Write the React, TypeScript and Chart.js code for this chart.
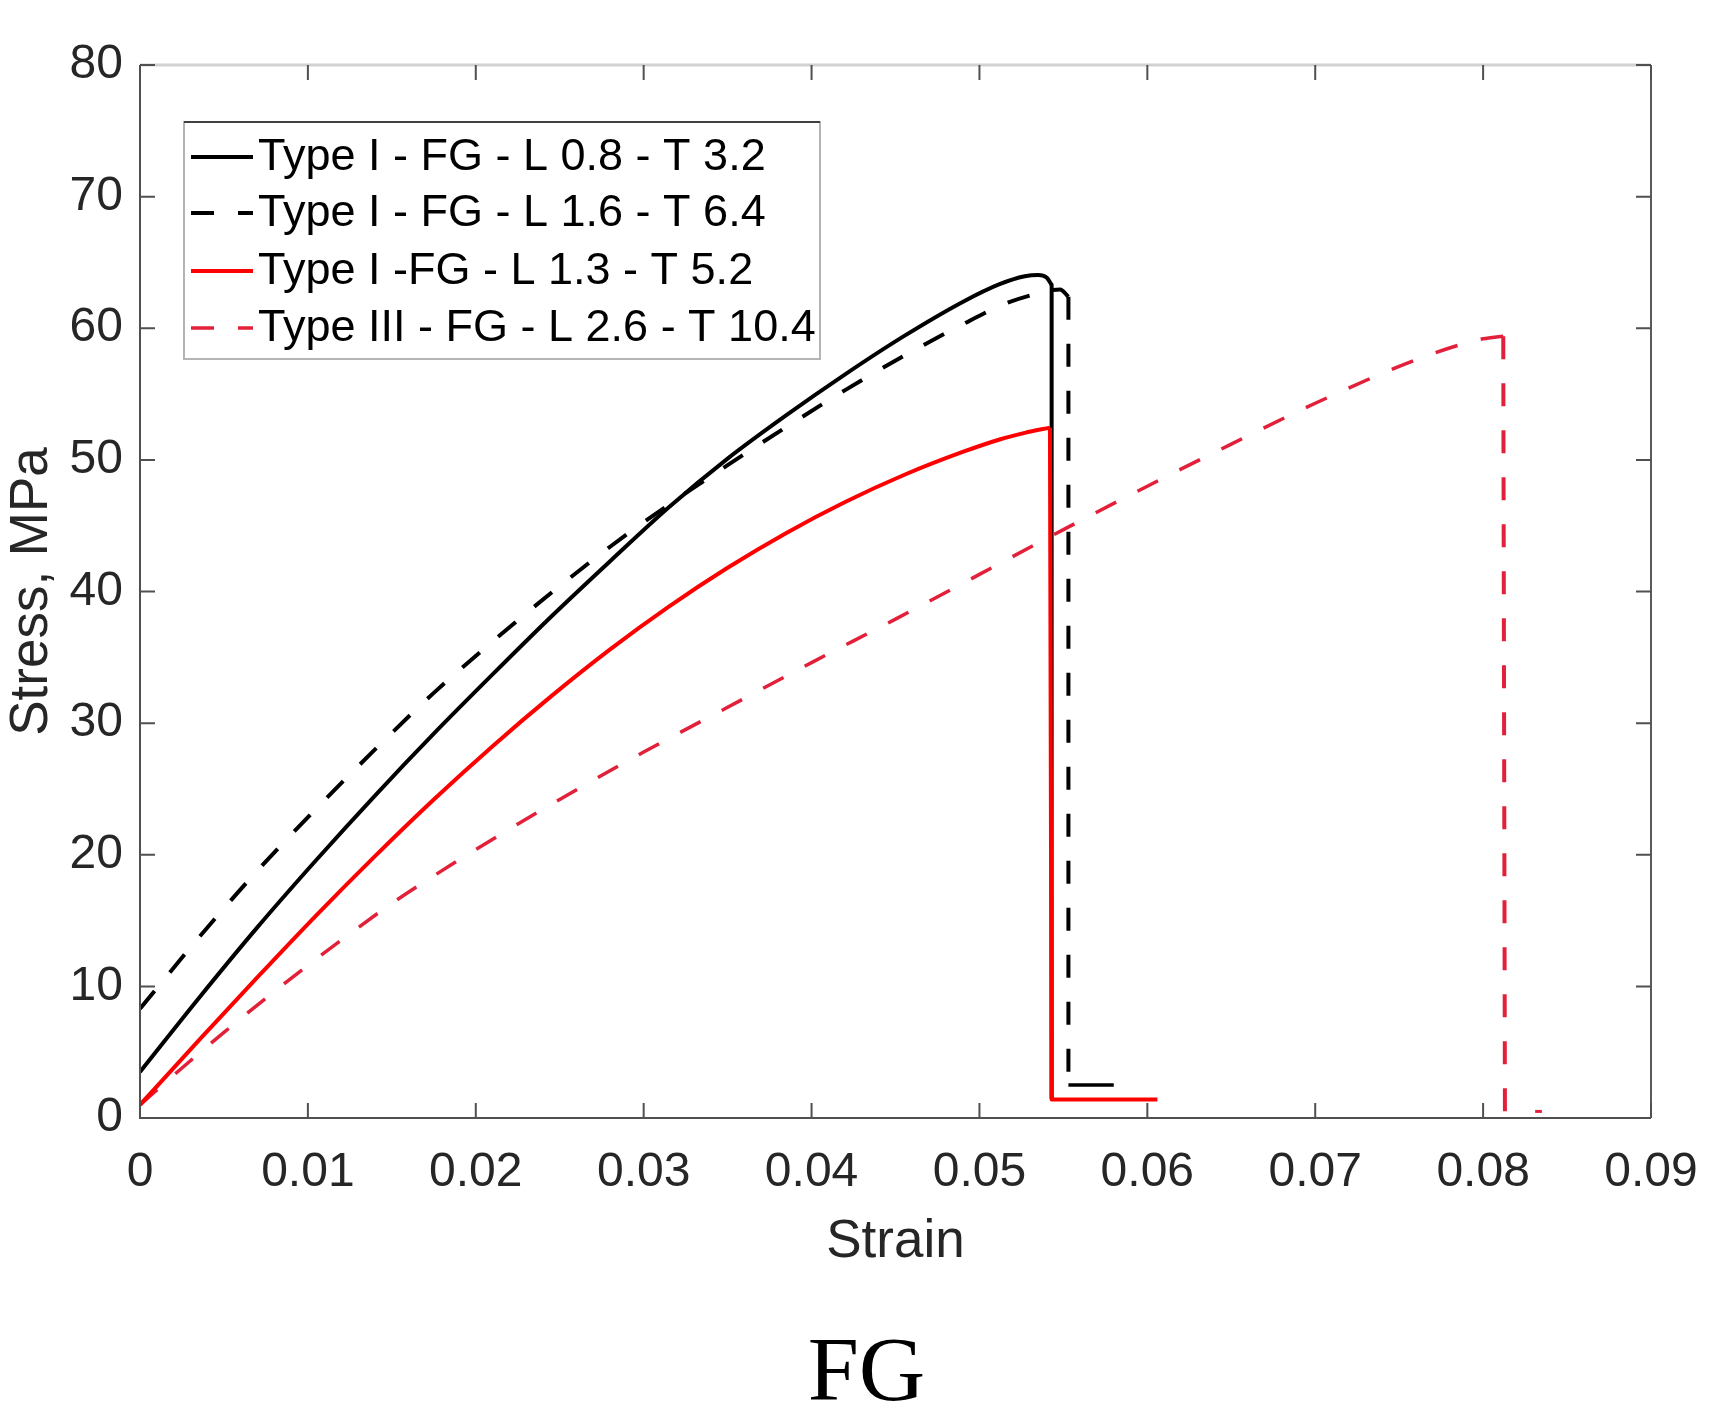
import React, { useEffect, useRef } from 'react';
import { Chart, registerables } from 'chart.js';

Chart.register(...registerables);

// ---- axis ticks ----
const xTicks = [0, 0.01, 0.02, 0.03, 0.04, 0.05, 0.06, 0.07, 0.08, 0.09];
const xTickLabels = ['0', '0.01', '0.02', '0.03', '0.04', '0.05', '0.06', '0.07', '0.08', '0.09'];
const yTicks = [0, 10, 20, 30, 40, 50, 60, 70, 80];
const yTickLabels = ['0', '10', '20', '30', '40', '50', '60', '70', '80'];

// ---- series labels ----
const seriesLabels = [
  'Type I - FG - L 0.8 - T 3.2',
  'Type I - FG - L 1.6 - T 6.4',
  'Type I -FG - L 1.3 - T 5.2',
  'Type III - FG - L 2.6 - T 10.4',
];

// ---- Type I - FG - L 0.8 - T 3.2 (black solid) ----
const s1Strain = [0, 0.0035, 0.007, 0.0105, 0.014, 0.0175, 0.021, 0.0245, 0.028, 0.0315, 0.035, 0.0385, 0.042, 0.0455, 0.049, 0.0512, 0.0527, 0.0535, 0.054, 0.0543];
const s1Stress = [3.5, 9.1, 14.5, 19.6, 24.5, 29.2, 33.7, 38.1, 42.3, 46.4, 50.1, 53.4, 56.5, 59.4, 62.0, 63.35, 63.95, 64.05, 63.85, 63.3];
const s1FailStrain = [0.0543, 0.0543];
const s1FailStress = [63.3, 1.5];

// ---- Type I - FG - L 1.6 - T 6.4 (black dashed) ----
const s2Strain = [0, 0.0035, 0.007, 0.0105, 0.014, 0.0175, 0.021, 0.0245, 0.028, 0.0315, 0.035, 0.0385, 0.042, 0.0455, 0.049, 0.0515, 0.0535, 0.0548, 0.0553];
const s2Stress = [8.3, 13.7, 18.8, 23.5, 28.0, 32.3, 36.2, 39.9, 43.4, 46.6, 49.6, 52.5, 55.3, 57.9, 60.3, 61.85, 62.65, 62.95, 62.4];
const s2FailStrain = [0.0553, 0.0553];
const s2FailStress = [62.4, 2.5];
const s2TailStrain = [0.0553, 0.058];
const s2TailStress = [2.5, 2.5];

// ---- Type I -FG - L 1.3 - T 5.2 (red solid) ----
const s3Strain = [0, 0.0035, 0.007, 0.0105, 0.014, 0.0175, 0.021, 0.0245, 0.028, 0.0315, 0.035, 0.0385, 0.042, 0.0455, 0.049, 0.0512, 0.0527, 0.0542];
const s3Stress = [1.0, 5.9, 10.7, 15.4, 19.9, 24.2, 28.25, 32.05, 35.6, 38.85, 41.8, 44.45, 46.8, 48.85, 50.6, 51.55, 52.05, 52.45];
const s3FailStrain = [0.0542, 0.0543, 0.0606];
const s3FailStress = [52.45, 1.4, 1.4];

// ---- Type III - FG - L 2.6 - T 10.4 (red dashed) ----
const s4Strain = [0, 0.0025, 0.005, 0.0075, 0.01, 0.0125, 0.015, 0.0175, 0.02, 0.025, 0.03, 0.035, 0.04, 0.045, 0.05, 0.055, 0.06, 0.065, 0.07, 0.075, 0.078, 0.08, 0.0812];
const s4Stress = [1.0, 3.8, 6.5, 9.1, 11.6, 14.0, 16.3, 18.4, 20.4, 24.2, 27.8, 31.2, 34.6, 37.9, 41.3, 44.7, 48.0, 51.2, 54.3, 57.1, 58.5, 59.2, 59.4];
const s4FailStrain = [0.0812, 0.0813];
const s4FailStress = [59.4, 0.3];
const s4TailStrain = [0.0831, 0.0835];
const s4TailStress = [0.5, 0.5];

const pts = (xs: number[], ys: number[]) => xs.map((x, i) => ({ x, y: ys[i] }));

const BLACK = '#000000';
const RED = '#ff0000';
const RED_DASH = '#e3203a';
const DASH = [23, 24];
const FONT = "'Liberation Sans', Arial, Helvetica, sans-serif";
const TEXT = '#262626';

const framePlugin = {
  id: 'frame',
  afterDatasetsDraw(chart: any) {
    const { ctx, chartArea: a, scales } = chart;
    const xs = scales.x;
    const ys = scales.y;
    const tl = 15;
    ctx.save();
    ctx.lineCap = 'butt';
    // top border (light)
    ctx.strokeStyle = '#d2d2d2';
    ctx.lineWidth = 3;
    ctx.beginPath();
    ctx.moveTo(a.left, a.top);
    ctx.lineTo(a.right, a.top);
    ctx.stroke();
    // right border
    ctx.strokeStyle = '#5a5a5a';
    ctx.lineWidth = 2;
    ctx.beginPath();
    ctx.moveTo(a.right, a.top);
    ctx.lineTo(a.right, a.bottom);
    ctx.stroke();
    // left & bottom
    ctx.strokeStyle = '#505050';
    ctx.lineWidth = 2;
    ctx.beginPath();
    ctx.moveTo(a.left, a.top);
    ctx.lineTo(a.left, a.bottom);
    ctx.lineTo(a.right, a.bottom);
    ctx.stroke();
    // inward ticks
    ctx.strokeStyle = '#505050';
    ctx.lineWidth = 2;
    ctx.beginPath();
    xTicks.forEach((v) => {
      const px = xs.getPixelForValue(v);
      ctx.moveTo(px, a.bottom);
      ctx.lineTo(px, a.bottom - tl);
      ctx.moveTo(px, a.top);
      ctx.lineTo(px, a.top + tl);
    });
    yTicks.forEach((v) => {
      const py = ys.getPixelForValue(v);
      ctx.moveTo(a.left, py);
      ctx.lineTo(a.left + tl, py);
      ctx.moveTo(a.right, py);
      ctx.lineTo(a.right - tl, py);
    });
    ctx.stroke();

    // legend box
    const bx = 184, by = 122, bw = 636, bh = 237;
    ctx.fillStyle = '#ffffff';
    ctx.fillRect(bx, by, bw, bh);
    ctx.strokeStyle = '#b4b4b4';
    ctx.lineWidth = 2;
    ctx.strokeRect(bx, by, bw, bh);
    ctx.strokeStyle = '#404040';
    ctx.beginPath();
    ctx.moveTo(bx, by);
    ctx.lineTo(bx + bw, by);
    ctx.stroke();

    const rowY = [157, 213, 271, 328];
    const items = chart.data.datasets.filter((d: any) => d.legendRow !== undefined);
    ctx.font = `45px ${FONT}`;
    ctx.textBaseline = 'middle';
    ctx.textAlign = 'left';
    items.forEach((d: any) => {
      const y = rowY[d.legendRow];
      ctx.strokeStyle = d.borderColor;
      ctx.lineWidth = d.borderWidth;
      ctx.setLineDash(d.borderDash || []);
      ctx.beginPath();
      ctx.moveTo(191, y);
      ctx.lineTo(253, y);
      ctx.stroke();
      ctx.setLineDash([]);
      ctx.fillStyle = '#000000';
      ctx.fillText(d.label, 258, y + 1);
    });
    ctx.restore();
  },
};

export default function App() {
  const ref = useRef<HTMLCanvasElement | null>(null);

  useEffect(() => {
    if (!ref.current) return;
    const common = { pointRadius: 0, pointHoverRadius: 0, fill: false, borderCapStyle: 'butt', borderJoinStyle: 'round' };
    const chart = new Chart(ref.current, {
      type: 'line',
      data: {
        datasets: [
          { ...common, label: seriesLabels[2], legendRow: 2, data: pts(s3Strain, s3Stress), borderColor: RED, borderWidth: 4, cubicInterpolationMode: 'monotone', order: 1 },
          { ...common, label: 'fail3', data: pts(s3FailStrain, s3FailStress), borderColor: RED, borderWidth: 4, tension: 0, order: 1 },
          { ...common, label: seriesLabels[3], legendRow: 3, data: pts(s4Strain, s4Stress), borderColor: RED_DASH, borderWidth: 3.5, borderDash: DASH, cubicInterpolationMode: 'monotone', order: 2 },
          { ...common, label: 'fail4', data: pts(s4FailStrain, s4FailStress), borderColor: RED_DASH, borderWidth: 4, borderDash: DASH, tension: 0, order: 2 },
          { ...common, label: 'tail4', data: pts(s4TailStrain, s4TailStress), borderColor: RED_DASH, borderWidth: 3, tension: 0, order: 2 },
          { ...common, label: seriesLabels[0], legendRow: 0, data: pts(s1Strain, s1Stress), borderColor: BLACK, borderWidth: 4, cubicInterpolationMode: 'monotone', order: 3 },
          { ...common, label: 'fail1', data: pts(s1FailStrain, s1FailStress), borderColor: BLACK, borderWidth: 4, tension: 0, order: 3 },
          { ...common, label: seriesLabels[1], legendRow: 1, data: pts(s2Strain, s2Stress), borderColor: BLACK, borderWidth: 4, borderDash: DASH, cubicInterpolationMode: 'monotone', order: 4 },
          { ...common, label: 'fail2', data: pts(s2FailStrain, s2FailStress), borderColor: BLACK, borderWidth: 4, borderDash: DASH, tension: 0, order: 4 },
          { ...common, label: 'tail2', data: pts(s2TailStrain, s2TailStress), borderColor: BLACK, borderWidth: 3.5, tension: 0, order: 4 },
        ] as any,
      },
      options: {
        animation: false,
        responsive: false,
        devicePixelRatio: 1,
        layout: { padding: { top: 65, right: 82, left: 0, bottom: 0 } },
        plugins: {
          legend: { display: false },
          tooltip: { enabled: false },
          title: { display: false },
        },
        scales: {
          x: {
            type: 'linear',
            min: 0,
            max: 0.09,
            afterBuildTicks: (s: any) => { s.ticks = xTicks.map((v) => ({ value: v })); },
            afterFit: (s: any) => { s.height = 182; },
            grid: { display: false, drawTicks: false },
            border: { display: false },
            ticks: {
              padding: 26,
              color: TEXT,
              font: { family: FONT, size: 48 },
              maxRotation: 0,
              autoSkip: false,
              callback: (v: any) => xTickLabels[xTicks.findIndex((t) => Math.abs(t - v) < 1e-9)] ?? '',
            },
            title: {
              display: true,
              text: 'Strain',
              color: TEXT,
              font: { family: FONT, size: 53 },
              padding: { top: 0, bottom: 26 },
            },
          },
          y: {
            type: 'linear',
            min: 0,
            max: 80,
            afterBuildTicks: (s: any) => { s.ticks = yTicks.map((v) => ({ value: v })); },
            afterFit: (s: any) => { s.width = 140; },
            grid: { display: false, drawTicks: false },
            border: { display: false },
            ticks: {
              padding: 17,
              color: TEXT,
              font: { family: FONT, size: 48 },
              autoSkip: false,
              callback: (v: any) => yTickLabels[yTicks.indexOf(v)] ?? '',
            },
            title: {
              display: true,
              text: 'Stress, MPa',
              color: TEXT,
              font: { family: FONT, size: 53 },
              padding: { top: 1, bottom: 0 },
            },
          },
        },
      } as any,
      plugins: [framePlugin],
    });
    return () => chart.destroy();
  }, []);

  return (
    <div style={{ position: 'absolute', left: 0, top: 0, width: 1733, height: 1419, background: '#ffffff', overflow: 'hidden' }}>
      <canvas ref={ref} width={1733} height={1300} style={{ display: 'block', width: 1733, height: 1300 }} />
      <div
        style={{
          position: 'absolute',
          left: 0,
          top: 1323,
          width: 1733,
          textAlign: 'center',
          fontFamily: "'Liberation Serif', 'Times New Roman', serif",
          fontSize: 92,
          lineHeight: 1,
          color: '#000000',
        }}
      >
        FG
      </div>
    </div>
  );
}
